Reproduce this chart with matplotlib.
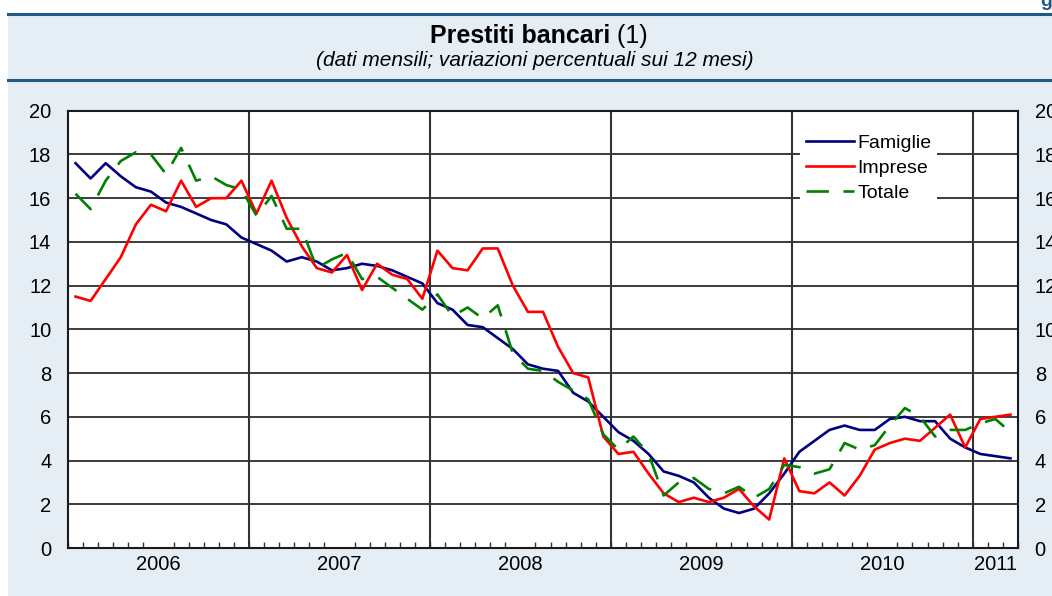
import numpy as np
import matplotlib
matplotlib.use('Agg')
import matplotlib.pyplot as plt
from matplotlib.patches import Rectangle
from matplotlib.lines import Line2D

plt.rcParams['font.family'] = ['Liberation Sans', 'DejaVu Sans']

# monthly data, Jan 2006 - Mar 2011 (12-month % change)
years = ['2006', '2007', '2008', '2009', '2010', '2011']
famiglie = [17.6, 16.9, 17.6, 17.0, 16.5, 16.3, 15.8, 15.6, 15.3, 15.0, 14.8, 14.2,
            13.9, 13.6, 13.1, 13.3, 13.1, 12.7, 12.8, 13.0, 12.9, 12.7, 12.4, 12.1,
            11.2, 10.9, 10.2, 10.1, 9.6, 9.1, 8.4, 8.2, 8.1, 7.1, 6.7, 6.0,
            5.3, 4.9, 4.3, 3.5, 3.3, 3.0, 2.3, 1.8, 1.6, 1.8, 2.5, 3.4,
            4.4, 4.9, 5.4, 5.6, 5.4, 5.4, 5.9, 6.0, 5.8, 5.8, 5.0, 4.6,
            4.3, 4.2, 4.1]
imprese = [11.5, 11.3, 12.3, 13.3, 14.8, 15.7, 15.4, 16.8, 15.6, 16.0, 16.0, 16.8,
           15.3, 16.8, 15.1, 13.8, 12.8, 12.6, 13.4, 11.8, 13.0, 12.5, 12.3, 11.4,
           13.6, 12.8, 12.7, 13.7, 13.7, 12.0, 10.8, 10.8, 9.2, 8.0, 7.8, 5.1,
           4.3, 4.4, 3.4, 2.5, 2.1, 2.3, 2.1, 2.3, 2.7, 1.9, 1.3, 4.1,
           2.6, 2.5, 3.0, 2.4, 3.3, 4.5, 4.8, 5.0, 4.9, 5.5, 6.1, 4.6,
           5.9, 6.0, 6.1]
totale = [16.2, 15.5, 16.8, 17.7, 18.1, 18.0, 17.1, 18.3, 16.8, 17.0, 16.6, 16.4,
          15.2, 16.1, 14.6, 14.6, 12.8, 13.2, 13.5, 12.3, 12.4, 11.9, 11.4, 10.9,
          11.6, 10.6, 11.0, 10.5, 11.1, 8.9, 8.2, 8.1, 7.6, 7.2, 6.8, 5.2,
          4.5, 5.1, 4.3, 2.4, 3.0, 3.2, 2.7, 2.5, 2.8, 2.3, 2.7, 3.8,
          3.7, 3.4, 3.6, 4.8, 4.5, 4.7, 5.6, 6.4, 6.0, 5.1, 5.4, 5.4,
          5.7, 5.9, 5.3]

n = len(famiglie)
x = np.arange(n)
bg = '#E5EEF4'
band = '#1F5A82'

fig = plt.figure(figsize=(10.52, 5.96), dpi=100)
fig.patch.set_facecolor('white')
W, H = 1052.0, 596.0

# light background panel + header lines
fig.add_artist(Rectangle((8 / W, 0), 1 - 8 / W, 1 - 14 / H, transform=fig.transFigure,
                         facecolor=bg, edgecolor='none', zorder=0))
for yy in (13.5, 80):
    fig.add_artist(Line2D([8 / W, 1], [1 - yy / H, 1 - yy / H], transform=fig.transFigure,
                          color=band, lw=2.2))
fig.text(1046 / W, 1 - 1 / H, 'g', ha='center', va='center', fontsize=14,
         fontweight='bold', color=band)

# title: bold part + regular "(1)", centred together
r = fig.canvas.get_renderer()
t1 = fig.text(0, 1 - 36 / H, 'Prestiti bancari', ha='left', va='center',
              fontsize=18, fontweight='bold')
t2 = fig.text(0, 1 - 36 / H, ' (1)', ha='left', va='center', fontsize=18)
w1 = t1.get_window_extent(r).width
w2 = t2.get_window_extent(r).width
x0 = 538.5 - (w1 + w2) / 2
t1.set_x(x0 / W)
t2.set_x((x0 + w1) / W)
fig.text(535 / W, 1 - 61 / H, '(dati mensili; variazioni percentuali sui 12 mesi)',
         ha='center', va='center', fontsize=15, style='italic')

ax = fig.add_axes([68 / W, 48 / H, 950 / W, 437.3 / H])
ax.set_facecolor('white')

ax.plot(x, famiglie, color='#000080', lw=1.9, label='Famiglie', zorder=3)
ax.plot(x, imprese, color='#FF0000', lw=1.9, label='Imprese', zorder=3)
ax.plot(x, totale, color='#008000', lw=1.9, ls=(0, (8.5, 5.5)), label='Totale', zorder=3)

ax.set_xlim(-0.5, n - 0.5)
ax.set_ylim(0, 20)
ax.set_yticks(np.arange(0, 21, 2))
ax.yaxis.grid(True, color='#1a1a1a', lw=1.2)
ax.set_axisbelow(True)

# year boundaries and labels
bounds = np.arange(-0.5, n, 12)
for b in bounds[1:]:
    ax.axvline(b, color='#333333', lw=1.5, zorder=1)
centers = [(b + min(b + 12, n - 0.5)) / 2 for b in bounds]
ax.set_xticks(centers)
ax.set_xticklabels(years)
ax.set_xticks(np.arange(-0.5, n, 1), minor=True)
ax.tick_params(axis='x', which='major', length=0, pad=5, labelsize=14.5)
ax.tick_params(axis='x', which='minor', direction='in', length=4, width=1, color='#333333')
ax.tick_params(axis='y', length=0, pad=12, labelsize=14.5, labelright=True)

for s in ax.spines.values():
    s.set_color('#1a1a1a')
    s.set_linewidth(1.5)

leg = ax.legend(loc='upper left', bbox_to_anchor=(732 / 950, 1 - 18 / 437.3),
                fontsize=14, frameon=True, facecolor='white', edgecolor='none',
                framealpha=1, fancybox=False, handlelength=2.5, handletextpad=0.15,
                labelspacing=0.38, borderpad=0.3, borderaxespad=0)
leg.set_zorder(5)

plt.savefig('out.png', dpi=100)
